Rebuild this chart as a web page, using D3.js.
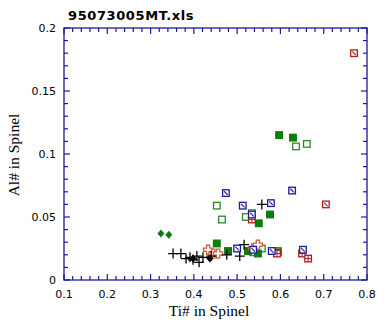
<!DOCTYPE html>
<html><head><meta charset="utf-8">
<script src="https://cdn.jsdelivr.net/npm/d3@7"></script>
<style>body{margin:0;background:#fff}svg{display:block}</style>
</head><body>
<script>
const title = "95073005MT.xls";
const xTicks = [0.1,0.2,0.3,0.4,0.5,0.6,0.7,0.8];
const xTickLabels = ["0.1","0.2","0.3","0.4","0.5","0.6","0.7","0.8"];
const yTicks = [0,0.05,0.1,0.15,0.2];
const yTickLabels = ["0","0.05","0.1","0.15","0.2"];

const greenDiamond = [[0.324,0.037],[0.342,0.036]];
const blackPlus = [[0.352,0.021],[0.370,0.021],[0.382,0.017],[0.391,0.018],[0.398,0.016],[0.407,0.019],[0.412,0.014],[0.421,0.018],[0.440,0.019],[0.476,0.020],[0.506,0.019],[0.516,0.028],[0.557,0.060]];
const blackDiamond = [[0.398,0.017],[0.437,0.017]];
const greenFilled = [[0.597,0.115],[0.629,0.113],[0.576,0.052],[0.550,0.045],[0.453,0.029],[0.479,0.023],[0.525,0.023],[0.548,0.021],[0.594,0.022]];
const greenOpen = [[0.636,0.106],[0.661,0.108],[0.453,0.059],[0.465,0.048],[0.520,0.050],[0.534,0.053],[0.557,0.025],[0.594,0.023],[0.537,0.022]];
const blueDiag = [[0.474,0.069],[0.513,0.059],[0.534,0.052],[0.578,0.061],[0.627,0.071],[0.500,0.025],[0.537,0.024],[0.580,0.023],[0.652,0.024]];
const redDiag = [[0.770,0.180],[0.705,0.060]];
const redGrid = [[0.534,0.048],[0.592,0.021],[0.650,0.021],[0.664,0.017]];
const orangeCross = [[0.433,0.024],[0.445,0.021],[0.456,0.021],[0.537,0.025],[0.548,0.028]];

const W=384,H=324;
const svg=d3.select("body").append("svg").attr("width",W).attr("height",H);
const x=d3.scaleLinear().domain([0.1,0.8]).range([64,367]);
const y=d3.scaleLinear().domain([0,0.2]).range([280,28]);
const navy="#1a1a9a";

// frame
svg.append("rect").attr("x",64).attr("y",28).attr("width",303).attr("height",252)
  .attr("fill","none").attr("stroke",navy).attr("stroke-width",1.3);

const xMinor=d3.range(0.1,0.8001,0.02);
const yMinor=d3.range(0,0.2001,0.01);
const tk=svg.append("g").attr("stroke",navy).attr("stroke-width",1.2);
function isMajor(v,step){return Math.abs(v/step-Math.round(v/step))<1e-6;}
xMinor.forEach(v=>{
  const L=isMajor(v,0.1)?6:4;
  tk.append("line").attr("x1",x(v)).attr("x2",x(v)).attr("y1",280).attr("y2",280-L);
  tk.append("line").attr("x1",x(v)).attr("x2",x(v)).attr("y1",28).attr("y2",28+L);
});
yMinor.forEach(v=>{
  const L=isMajor(v,0.05)?6:4;
  tk.append("line").attr("y1",y(v)).attr("y2",y(v)).attr("x1",64).attr("x2",64+L);
  tk.append("line").attr("y1",y(v)).attr("y2",y(v)).attr("x1",367).attr("x2",367-L);
});

// tick labels
const lab=svg.append("g").attr("font-family","DejaVu Sans, sans-serif").attr("font-size",11).attr("fill","#000");
xTicks.forEach((v,i)=>lab.append("text").attr("x",x(v)).attr("y",298).attr("text-anchor","middle").text(xTickLabels[i]));
yTicks.forEach((v,i)=>lab.append("text").attr("x",56).attr("y",y(v)+4).attr("text-anchor","end").text(yTickLabels[i]));

// titles
svg.append("text").attr("x",68).attr("y",20).attr("font-family","DejaVu Sans, sans-serif")
  .attr("font-weight","bold").attr("font-size",13).attr("letter-spacing",0.6).text(title);
svg.append("text").attr("x",209).attr("y",316).attr("text-anchor","middle")
  .attr("font-family","Liberation Serif, Times New Roman, serif").attr("font-size",15.5).text("Ti# in Spinel");
svg.append("text").attr("transform","translate(19,155) rotate(-90)").attr("text-anchor","middle")
  .attr("font-family","Liberation Serif, Times New Roman, serif").attr("font-size",15.5).text("Al# in Spinel");

const g=svg.append("g");
const s=3.3;
function sq(data,color,fill,extra){
  data.forEach(d=>{
    const cx=x(d[0]),cy=y(d[1]);
    g.append("rect").attr("x",cx-s).attr("y",cy-s).attr("width",2*s).attr("height",2*s)
      .attr("fill",fill?color:"#fff").attr("stroke",color).attr("stroke-width",1.3);
    if(extra==="diag"){
      g.append("line").attr("x1",cx-s+1.5).attr("y1",cy-s+1.5).attr("x2",cx+s-1.5).attr("y2",cy+s-1.5).attr("stroke",color).attr("stroke-width",1.1);
    } else if(extra==="grid"){
      g.append("line").attr("x1",cx-s).attr("y1",cy).attr("x2",cx+s).attr("y2",cy).attr("stroke",color).attr("stroke-width",1);
      g.append("line").attr("x1",cx).attr("y1",cy-s).attr("x2",cx).attr("y2",cy+s).attr("stroke",color).attr("stroke-width",1);
    }
  });
}
function diamonds(data,color){
  data.forEach(d=>{
    const cx=x(d[0]),cy=y(d[1]);
    g.append("path").attr("d",`M${cx},${cy-4}L${cx+3.5},${cy}L${cx},${cy+4}L${cx-3.5},${cy}Z`).attr("fill",color);
  });
}
function plus(data,color){
  data.forEach(d=>{
    const cx=x(d[0]),cy=y(d[1]);
    g.append("path").attr("d",`M${cx-5},${cy}H${cx+5}M${cx},${cy-5}V${cy+5}`).attr("stroke",color).attr("stroke-width",1.3);
  });
}
function hollowCross(data,color){
  data.forEach(d=>{
    const cx=x(d[0]),cy=y(d[1]);const a=1.6,b=4.5;
    g.append("path").attr("d",`M${cx-a},${cy-b}H${cx+a}V${cy-a}H${cx+b}V${cy+a}H${cx+a}V${cy+b}H${cx-a}V${cy+a}H${cx-b}V${cy-a}H${cx-a}Z`)
      .attr("fill","#fff").attr("stroke",color).attr("stroke-width",1.3);
  });
}
diamonds(greenDiamond,"#0a7d0a");
sq(greenOpen,"#2a8a2a",false);
sq(greenFilled,"#0a7d0a",true);
hollowCross(orangeCross,"#c8603a");
plus(blackPlus,"#000");
diamonds(blackDiamond,"#000");
sq(redGrid,"#b01c1c",false,"grid");
sq(blueDiag,"#1a1a9a",false,"diag");
sq(redDiag,"#b01c1c",false,"diag");
</script>
</body></html>
